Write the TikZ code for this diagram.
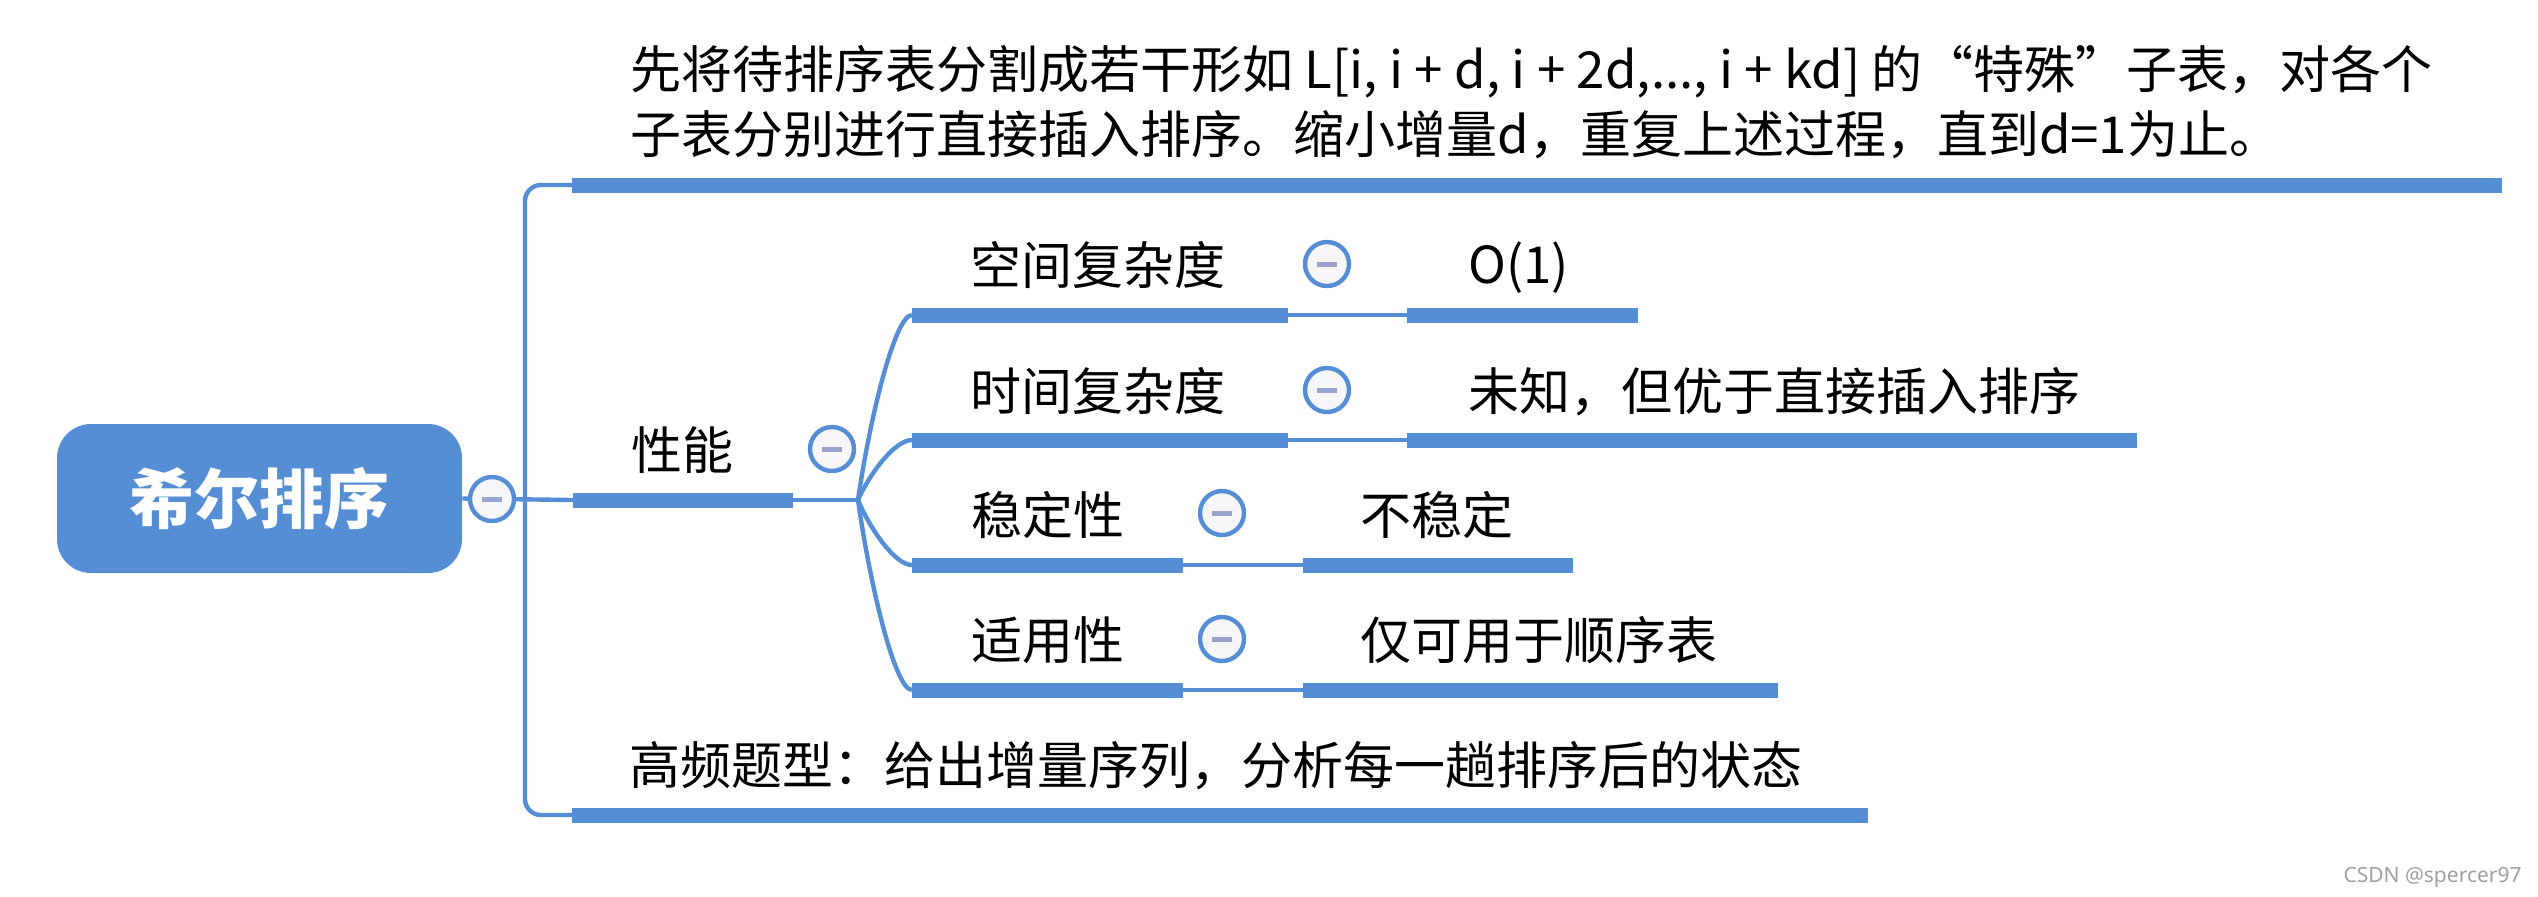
\documentclass[tikz,border=0pt]{standalone}
\usepackage{fontspec}
\setmainfont{Noto Sans CJK SC}
\newfontfamily\markfont{Noto Sans}
\usepackage{xcolor}
\usetikzlibrary{positioning}
\definecolor{mapBlue}{RGB}{86,142,213}
\definecolor{mapFold}{RGB}{246,246,248}
\definecolor{mapMinus}{RGB}{154,163,204}
\definecolor{mapGray}{RGB}{160,160,160}

\begin{document}
\begin{tikzpicture}[x=0.5pt,y=-0.5pt,
  topic/.style={font=\fontsize{25.5}{28.5}\selectfont, inner sep=0pt, anchor=base west},
  bar/.style={draw=mapBlue, line width=7.5pt},
  link/.style={draw=mapBlue, line width=2.2pt},
  fold/.style={circle, draw=mapBlue, line width=2.2pt, fill=mapFold, minimum size=22pt, inner sep=0pt,
    path picture={\fill[mapMinus] ([xshift=-5pt,yshift=-1.25pt]path picture bounding box.center) rectangle ++(10pt,2.5pt);}},
  rootbox/.style={rectangle, rounded corners=17pt, fill=mapBlue, minimum width=202.5pt, minimum height=74.5pt,
    text=white, font=\bfseries\fontsize{32.5}{36}\selectfont}]
\useasboundingbox (0,0) rectangle (2538,896);

\node[rootbox] (root) at (259.5,498.5) {希尔排序};

% bars under the topics
\coordinate (descL) at (572,185);   \coordinate (descR) at (2502,185);
\coordinate (perfL) at (573,500);   \coordinate (perfR) at (793,500);
\coordinate (perfB) at (858,500);
\coordinate (tipsL) at (572,815);   \coordinate (tipsR) at (1868,815);
\coordinate (spaceL) at (912,315);  \coordinate (spaceR) at (1288,315);
\coordinate (spaceV) at (1407,315); \coordinate (spaceE) at (1638,315);
\coordinate (timeL) at (912,440);   \coordinate (timeR) at (1288,440);
\coordinate (timeV) at (1407,440);  \coordinate (timeE) at (2137,440);
\coordinate (stableL) at (912,565); \coordinate (stableR) at (1183,565);
\coordinate (stableV) at (1303,565);\coordinate (stableE) at (1573,565);
\coordinate (applyL) at (912,690);  \coordinate (applyR) at (1183,690);
\coordinate (applyV) at (1303,690); \coordinate (applyE) at (1778,690);

\draw[link, rounded corners=8pt] (descL) -- (525,185) -- (525,815) -- (tipsL);
\draw[link] (root.east) -- (perfL);
\draw[link] (perfR) -- (perfB);
\draw[link] (perfB) .. controls +(12,-83) and +(-17,0) .. (spaceL);
\draw[link] (perfB) .. controls +(12,-27) and +(-17,0) .. (timeL);
\draw[link] (perfB) .. controls +(12,29) and +(-17,0) .. (stableL);
\draw[link] (perfB) .. controls +(12,85) and +(-17,0) .. (applyL);
\draw[link] (spaceR) -- (spaceV);
\draw[link] (timeR) -- (timeV);
\draw[link] (stableR) -- (stableV);
\draw[link] (applyR) -- (applyV);

\draw[bar] (descL) -- (descR);
\draw[bar] (perfL) -- (perfR);
\draw[bar] (tipsL) -- (tipsR);
\draw[bar] (spaceL) -- (spaceR);
\draw[bar] (spaceV) -- (spaceE);
\draw[bar] (timeL) -- (timeR);
\draw[bar] (timeV) -- (timeE);
\draw[bar] (stableL) -- (stableR);
\draw[bar] (stableV) -- (stableE);
\draw[bar] (applyL) -- (applyR);
\draw[bar] (applyV) -- (applyE);

\node[fold] (rootfold) at (492,499) {};
\node[fold] (perffold) at (832,449) {};
\node[fold] (spacefold) at (1327,264) {};
\node[fold] (timefold) at (1327,390) {};
\node[fold] (stablefold) at (1222,513) {};
\node[fold] (applyfold) at (1222,639) {};

\node[topic, align=left] (desc) at (630,153) {先将待排序表分割成若干形如 L[i, i + d, i + 2d,..., i + kd] 的“特殊”子表，对各个\\[4pt]子表分别进行直接插入排序。缩小增量d，重复上述过程，直到d=1为止。};
\node[topic] (perf) at (631,469) {性能};
\node[topic] (space) at (970,284) {空间复杂度};
\node[topic] (spaceval) at (1468,283) {O(1)};
\node[topic] (time) at (970,410) {时间复杂度};
\node[topic] (timeval) at (1468,410) {未知，但优于直接插入排序};
\node[topic] (stable) at (971,534) {稳定性};
\node[topic] (stableval) at (1360,534) {不稳定};
\node[topic] (apply) at (971,659) {适用性};
\node[topic] (applyval) at (1360,659) {仅可用于顺序表};
\node[topic] (tips) at (629,784) {高频题型：给出增量序列，分析每一趟排序后的状态};

\node[font=\markfont\fontsize{10.5}{12}\selectfont, text=mapGray, inner sep=0pt, anchor=base east] (mark) at (2522,882) {CSDN @spercer97};
\end{tikzpicture}
\end{document}
